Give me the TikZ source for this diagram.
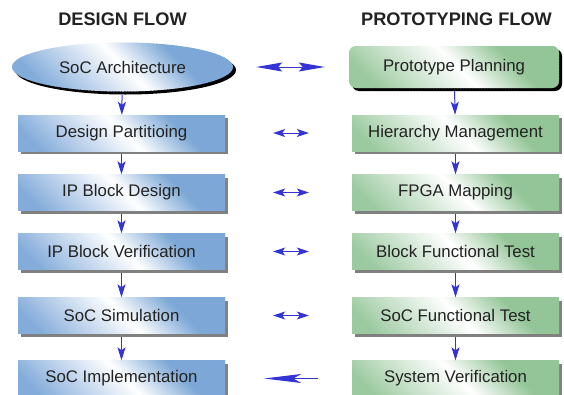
\documentclass[tikz,border=0pt]{standalone}
\usepackage{fontspec}
\setmainfont{Liberation Sans}
\usetikzlibrary{arrows.meta,shadows,shapes.geometric}

\definecolor{blueA}{RGB}{132,172,219}
\definecolor{blueB}{RGB}{124,167,214}
\definecolor{greenA}{RGB}{156,202,160}
\definecolor{greenB}{RGB}{148,197,152}
\definecolor{ink}{RGB}{34,34,34}
\definecolor{shadowgray}{RGB}{128,128,128}
\definecolor{flowblue}{RGB}{52,52,214}

% Diagonal sheen: thin 45-degree strips running from colour #1 through a
% white highlight near the centre to colour #2.
\newcommand\sheenstrips[2]{%
  \foreach \s in {-141,-138,...,141}{%
    \ifdim\s pt<2pt
      \pgfmathtruncatemacro\p{max(0,min(100,(\s+100)/102*100))}%
      \fill[white!\p!#1]
        ([shift={(\s-30,-30)}]path picture bounding box.center)
        -- ++(60,60) -- ++(4,0) -- ++(-60,-60) -- cycle;
    \else
      \pgfmathtruncatemacro\p{max(0,min(100,(62-\s)/60*100))}%
      \fill[white!\p!#2]
        ([shift={(\s-30,-30)}]path picture bounding box.center)
        -- ++(60,60) -- ++(4,0) -- ++(-60,-60) -- cycle;
    \fi}}

\tikzset{
  bluesheen/.style={path picture={\sheenstrips{blueA}{blueB}}},
  greensheen/.style={path picture={\sheenstrips{greenA}{greenB}}},
  boxtext/.style={text=ink, font=\fontsize{16.8}{20}\selectfont},
  flowbox/.style={rectangle, minimum width=207pt, minimum height=36pt,
    inner sep=0pt, boxtext,
    general shadow={fill=shadowgray, shadow xshift=3pt, shadow yshift=-3pt}},
  designbox/.style={flowbox, bluesheen},
  protobox/.style={flowbox, greensheen},
  startoval/.style={ellipse, minimum width=221pt, minimum height=49pt,
    inner sep=0pt, boxtext, bluesheen,
    general shadow={fill=black, shadow xshift=3pt, shadow yshift=-3pt}},
  startbox/.style={rectangle, rounded corners=7pt, minimum width=210pt,
    minimum height=42pt, inner sep=0pt, boxtext, greensheen,
    general shadow={fill=black, shadow xshift=3pt, shadow yshift=-3pt}},
  heading/.style={text=ink, font=\bfseries\fontsize{18.2}{22}\selectfont},
  down/.style={draw=flowblue, line width=1pt, shorten <=3pt,
    -{Stealth[length=13pt, width=8pt, inset=3pt]}},
  link/.style={draw=flowblue, line width=1pt,
    {Stealth[length=12pt, width=8pt, inset=3pt]}-{Stealth[length=12pt, width=8pt, inset=3pt]}},
  biglink/.style={draw=flowblue, line width=1pt,
    {Stealth[length=26pt, width=9pt, inset=4pt]}-{Stealth[length=26pt, width=9pt, inset=4pt]}},
  backlink/.style={draw=flowblue, line width=1pt,
    -{Stealth[length=37pt, width=9pt, inset=8pt]}},
}

\begin{document}
\begin{tikzpicture}[x=1pt, y=-1pt]
  \useasboundingbox (0,0) rectangle (564,394);

  % column headings
  \node[heading] (dhead) at (122.5,19.5) {DESIGN FLOW};
  \node[heading] (phead) at (456.5,19.5) {PROTOTYPING FLOW};

  % design flow
  \node[startoval] (arch) at (122.5,67) {SoC Architecture};
  \node[designbox] (part) at (121.5,133) {Design Partitioing};
  \node[designbox] (ipd)  at (121.5,192.5) {IP Block Design};
  \node[designbox] (ipv)  at (121.5,251.5) {IP Block Verification};
  \node[designbox] (sim)  at (121.5,315.5) {SoC Simulation};
  \node[designbox] (impl) at (121.5,378.5) {SoC Implementation};

  % prototyping flow
  \node[startbox] (plan) at (454,67) {Prototype Planning};
  \node[protobox] (hier) at (455.5,133) {Hierarchy Management};
  \node[protobox] (fpga) at (455.5,192.5) {FPGA Mapping};
  \node[protobox] (bft)  at (455.5,251.5) {Block Functional Test};
  \node[protobox] (sft)  at (455.5,315.5) {SoC Functional Test};
  \node[protobox] (sver) at (455.5,378.5) {System Verification};

  % steps down each flow
  \draw[down] (arch) -- (part);
  \draw[down] (part) -- (ipd);
  \draw[down] (ipd)  -- (ipv);
  \draw[down] (ipv)  -- (sim);
  \draw[down] (sim)  -- (impl);
  \draw[down] (plan) -- (hier);
  \draw[down] (hier) -- (fpga);
  \draw[down] (fpga) -- (bft);
  \draw[down] (bft)  -- (sft);
  \draw[down] (sft)  -- (sver);

  % links between the two flows
  \draw[biglink, shorten <=23pt, shorten >=24pt] (arch) -- (plan);
  \draw[link, shorten <=48pt, shorten >=43pt] (part) -- (hier);
  \draw[link, shorten <=48pt, shorten >=43pt] (ipd)  -- (fpga);
  \draw[link, shorten <=48pt, shorten >=43pt] (ipv)  -- (bft);
  \draw[link, shorten <=48pt, shorten >=43pt] (sim)  -- (sft);
  \draw[backlink, shorten <=34pt, shorten >=39pt] (sver) -- (impl);
\end{tikzpicture}
\end{document}
